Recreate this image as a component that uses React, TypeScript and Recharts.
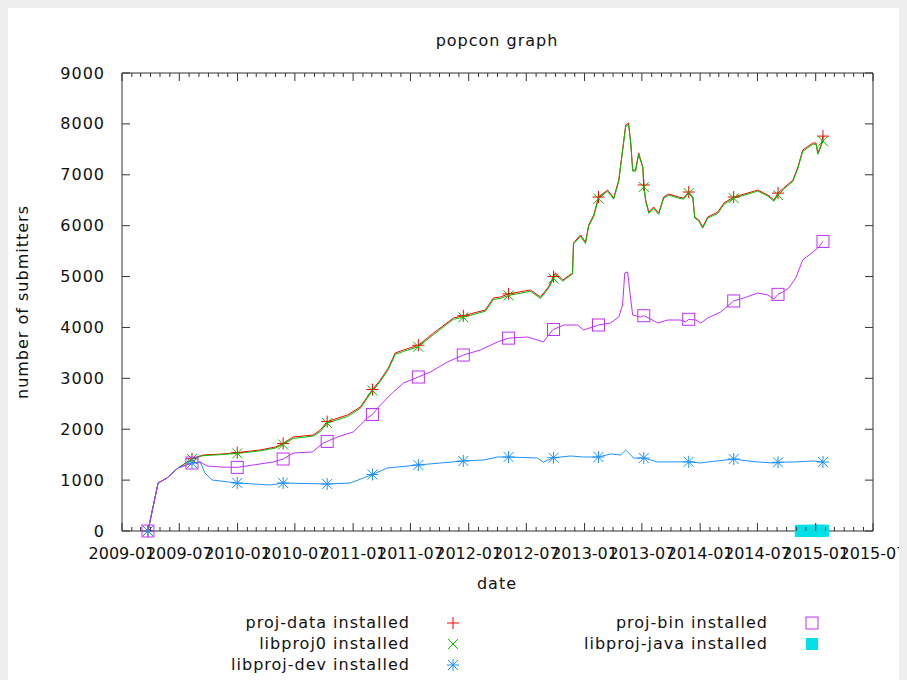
import { LineChart, Line, XAxis, YAxis, ReferenceArea } from 'recharts';

// chart box and plot edges (svg coords)
const W = 899;
const H = 672;
const PL = 114;
const PT = 65;
const PR = 865;
const PB = 523;
const FONT = '"DejaVu Sans", sans-serif';
const AXIS = '#333';

const xTickLabels = [
  '2009-01', '2009-07', '2010-01', '2010-07', '2011-01', '2011-07', '2012-01',
  '2012-07', '2013-01', '2013-07', '2014-01', '2014-07', '2015-01', '2015-07',
];
const yTicks = [0, 1000, 2000, 3000, 4000, 5000, 6000, 7000, 8000, 9000];

// dates where gnuplot put its point symbols
const markerDates = [
  '2009-03-24', '2009-08-10', '2009-12-31', '2010-05-25', '2010-10-11', '2011-03-03',
  '2011-07-26', '2011-12-15', '2012-05-06', '2012-09-25', '2013-02-14', '2013-07-07',
  '2013-11-26', '2014-04-17', '2014-09-04', '2015-01-24',
];

// proj-data and libproj0 share the same sample dates
const projDates = [
  '2009-03-24', '2009-04-25', '2009-05-23', '2009-06-27', '2009-08-10', '2009-09-14',
  '2009-11-07', '2009-12-31', '2010-03-13', '2010-04-30', '2010-05-25', '2010-06-26',
  '2010-08-28', '2010-09-19', '2010-10-11', '2010-12-14', '2011-01-24', '2011-03-03',
  '2011-03-28', '2011-04-22', '2011-05-14', '2011-06-09', '2011-07-26', '2011-09-12',
  '2011-11-14', '2011-12-15', '2012-02-23', '2012-03-19', '2012-04-10', '2012-05-06',
  '2012-07-14', '2012-08-15', '2012-09-09', '2012-09-25', '2012-10-01', '2012-10-24',
  '2012-11-24', '2012-11-27', '2012-12-19', '2013-01-04', '2013-01-14', '2013-01-30',
  '2013-02-14', '2013-03-15', '2013-04-03', '2013-04-19', '2013-05-01', '2013-05-11',
  '2013-05-20', '2013-05-27', '2013-06-02', '2013-06-11', '2013-06-21', '2013-07-04',
  '2013-07-07', '2013-07-13', '2013-07-23', '2013-08-07', '2013-08-23', '2013-09-08',
  '2013-09-24', '2013-10-25', '2013-11-10', '2013-11-26', '2013-12-09', '2013-12-15',
  '2013-12-28', '2014-01-09', '2014-01-25', '2014-02-26', '2014-03-17', '2014-04-17',
  '2014-06-01', '2014-07-02', '2014-08-03', '2014-08-22', '2014-09-04', '2014-09-22',
  '2014-10-21', '2014-11-06', '2014-11-21', '2014-12-23', '2015-01-02', '2015-01-08',
  '2015-01-18', '2015-01-24',
];
const projDataValues = [
  0, 943, 1041, 1238, 1420, 1493, 1510, 1540, 1592, 1650, 1720, 1847,
  1886, 1980, 2150, 2279, 2437, 2780, 2967, 3200, 3498, 3557, 3650, 3890,
  4185, 4230, 4343, 4579, 4598, 4660, 4736, 4598, 4795, 5000, 5070, 4932,
  5070, 5659, 5816, 5678, 6013, 6210, 6563, 6700, 6543, 6897, 7487, 7978,
  8017, 7624, 7094, 7094, 7428, 7153, 6800, 6504, 6268, 6367, 6249, 6563,
  6622, 6563, 6543, 6661, 6563, 6170, 6111, 5974, 6170, 6268, 6445, 6563,
  6642, 6700, 6602, 6504, 6640, 6740, 6897, 7153, 7487, 7624, 7624, 7428,
  7585, 7760,
];
const libproj0Values = [
  0, 943, 1041, 1238, 1415, 1480, 1500, 1525, 1575, 1630, 1700, 1820,
  1865, 1950, 2120, 2250, 2410, 2760, 2940, 3170, 3470, 3530, 3620, 3860,
  4160, 4200, 4320, 4550, 4570, 4630, 4710, 4570, 4770, 4960, 5040, 4910,
  5050, 5640, 5790, 5650, 5990, 6180, 6530, 6680, 6520, 6870, 7460, 7950,
  7990, 7600, 7070, 7070, 7400, 7130, 6760, 6480, 6240, 6340, 6220, 6540,
  6600, 6540, 6520, 6640, 6540, 6150, 6090, 5950, 6150, 6240, 6420, 6540,
  6620, 6680, 6580, 6480, 6600, 6720, 6870, 7130, 7460, 7600, 7600, 7400,
  7560, 7660,
];

const projBinDates = [
  '2009-03-24', '2009-04-25', '2009-05-23', '2009-06-27', '2009-08-10', '2009-09-05',
  '2009-09-27', '2009-11-07', '2009-12-31', '2010-02-19', '2010-04-24', '2010-05-25',
  '2010-06-26', '2010-08-25', '2010-09-29', '2010-10-11', '2010-11-12', '2011-01-01',
  '2011-02-15', '2011-03-03', '2011-03-28', '2011-05-08', '2011-06-09', '2011-07-26',
  '2011-09-02', '2011-10-26', '2011-12-15', '2012-02-07', '2012-04-01', '2012-05-06',
  '2012-07-05', '2012-08-05', '2012-08-24', '2012-09-22', '2012-09-25', '2012-10-27',
  '2012-12-10', '2012-12-29', '2013-02-14', '2013-03-24', '2013-04-19', '2013-05-01',
  '2013-05-08', '2013-05-17', '2013-05-27', '2013-06-02', '2013-06-27', '2013-07-07',
  '2013-07-23', '2013-08-20', '2013-09-21', '2013-10-31', '2013-11-17', '2013-11-26',
  '2013-12-18', '2014-01-03', '2014-01-25', '2014-03-07', '2014-04-17', '2014-05-19',
  '2014-07-02', '2014-08-03', '2014-08-22', '2014-09-04', '2014-09-19', '2014-10-08',
  '2014-10-30', '2014-11-21', '2014-12-23', '2015-01-11', '2015-01-24',
];
const projBinValues = [
  0, 943, 1041, 1238, 1336, 1356, 1277, 1258, 1250, 1297, 1356, 1415,
  1533, 1552, 1729, 1760, 1847, 1945, 2220, 2290, 2476, 2731, 2908, 3026,
  3124, 3321, 3458, 3557, 3714, 3790, 3812, 3753, 3714, 3950, 3960, 4048,
  4048, 3950, 4048, 4087, 4205, 4441, 5070, 5090, 4539, 4244, 4205, 4230,
  4185, 4087, 4146, 4146, 4107, 4160, 4146, 4087, 4185, 4303, 4520, 4578,
  4677, 4637, 4558, 4650, 4696, 4775, 4971, 5325, 5482, 5580, 5690,
];

const libprojDevDates = [
  '2009-03-24', '2009-04-25', '2009-05-23', '2009-06-27', '2009-08-10', '2009-09-05',
  '2009-09-20', '2009-10-13', '2009-12-31', '2010-04-14', '2010-05-25', '2010-10-11',
  '2010-12-23', '2011-02-02', '2011-03-03', '2011-04-19', '2011-07-26', '2011-10-04',
  '2011-12-15', '2012-02-17', '2012-04-01', '2012-05-06', '2012-08-05', '2012-08-24',
  '2012-09-25', '2012-11-18', '2012-12-29', '2013-02-14', '2013-03-24', '2013-04-25',
  '2013-05-11', '2013-06-05', '2013-07-07', '2013-08-20', '2013-11-26', '2014-01-03',
  '2014-01-25', '2014-04-17', '2014-06-20', '2014-08-22', '2014-09-04', '2014-10-24',
  '2014-12-26', '2015-01-24',
];
const libprojDevValues = [
  0, 943, 1041, 1238, 1336, 1356, 1140, 1002, 943, 904, 943, 924,
  943, 1041, 1110, 1238, 1297, 1336, 1376, 1395, 1454, 1454, 1434, 1356,
  1440, 1474, 1454, 1454, 1513, 1493, 1592, 1434, 1434, 1356, 1360, 1336,
  1356, 1415, 1362, 1336, 1350, 1356, 1376, 1356,
];

const libprojJavaDates = [
  '2014-11-15', '2014-11-25', '2014-12-05', '2014-12-15', '2014-12-25',
  '2015-01-04', '2015-01-14', '2015-01-24',
];
const libprojJavaValues = [1, 2, 2, 3, 3, 4, 4, 5];

const DOMAIN: [number, number] = [Date.parse('2009-01-01'), Date.parse('2015-07-01')];

const monthTicks: number[] = [];
for (let y = 2009; y <= 2015; y++) {
  for (let m = 0; m < 12; m++) {
    const t = Date.UTC(y, m, 1);
    if (t <= DOMAIN[1]) monthTicks.push(t);
  }
}

const toRows = (dates: string[], values: number[]) =>
  dates.map((d, i) => ({ date: d, t: Date.parse(d), v: values[i] }));

const markerSet = new Set(markerDates);

type Shape = 'plus' | 'cross' | 'star' | 'box' | 'fbox';

const Marker = ({ shape, cx, cy, color }: { shape: Shape; cx: number; cy: number; color: string }) => {
  const s = 6;
  if (shape === 'box') {
    return <rect x={cx - s} y={cy - s} width={s * 2} height={s * 2} fill="none" stroke={color} />;
  }
  if (shape === 'fbox') {
    return <rect x={cx - s} y={cy - s} width={s * 2} height={s * 2} fill={color} stroke="none" />;
  }
  const plus = `M${cx - s},${cy}H${cx + s}M${cx},${cy - s}V${cy + s}`;
  const c = 5;
  const cross = `M${cx - c},${cy - c}L${cx + c},${cy + c}M${cx - c},${cy + c}L${cx + c},${cy - c}`;
  const d = shape === 'plus' ? plus : shape === 'cross' ? cross : plus + cross;
  return <path d={d} stroke={color} fill="none" strokeWidth={1} />;
};

const makeDot = (shape: Shape, color: string, every = false) => (p: any) => {
  const { cx, cy, payload, index } = p;
  if (!every && !markerSet.has(payload.date)) return <g key={index} />;
  return (
    <g key={index}>
      <Marker shape={shape} cx={cx} cy={cy} color={color} />
    </g>
  );
};

const renderXTick = (props: any) => {
  const { x, payload } = props;
  const d = new Date(payload.value);
  const label = `${d.getUTCFullYear()}-${String(d.getUTCMonth() + 1).padStart(2, '0')}`;
  const major = xTickLabels.includes(label);
  const len = major ? 8 : 4;
  return (
    <g>
      <line x1={x} x2={x} y1={PB} y2={PB - len} stroke={AXIS} />
      <line x1={x} x2={x} y1={PT} y2={PT + len} stroke={AXIS} />
      {major && (
        <text x={x} y={PB + 22} textAnchor="middle" dominantBaseline="central"
          fontFamily={FONT} fontSize={16} fill="#111" style={{ letterSpacing: 0 }}>
          {label}
        </text>
      )}
    </g>
  );
};

const renderYTick = (props: any) => {
  const { y, payload } = props;
  return (
    <g>
      <line x1={PL} x2={PL + 8} y1={y} y2={y} stroke={AXIS} />
      <line x1={PR} x2={PR - 8} y1={y} y2={y} stroke={AXIS} />
      <text x={PL - 17} y={y} textAnchor="end" dominantBaseline="central"
        fontFamily={FONT} fontSize={16} fill="#111" style={{ letterSpacing: 1 }}>
        {payload.value}
      </text>
    </g>
  );
};

const series = [
  { name: 'proj-data installed', rows: toRows(projDates, projDataValues), color: '#ff0000', shape: 'plus' as Shape },
  { name: 'libproj0 installed', rows: toRows(projDates, libproj0Values), color: '#00c000', shape: 'cross' as Shape },
  { name: 'libproj-dev installed', rows: toRows(libprojDevDates, libprojDevValues), color: '#1e90ff', shape: 'star' as Shape },
  { name: 'proj-bin installed', rows: toRows(projBinDates, projBinValues), color: '#c030ff', shape: 'box' as Shape },
  { name: 'libproj-java installed', rows: toRows(libprojJavaDates, libprojJavaValues), color: '#00e0e8', shape: 'fbox' as Shape },
];

const legendPos = [
  { right: 402, mx: 445, y: 615 },
  { right: 402, mx: 445, y: 636 },
  { right: 402, mx: 445, y: 657 },
  { right: 760, mx: 804, y: 615 },
  { right: 760, mx: 804, y: 636 },
];

export default function App() {
  return (
    <div style={{ position: 'relative', width: W, height: H, background: '#fff', fontFamily: FONT, fontSize: 16, color: '#111' }}>
      <style>{'body{background:#eeeeee}'}</style>
      <LineChart width={W} height={H} margin={{ top: PT, right: W - PR, bottom: 0, left: 0 }}>
        <XAxis type="number" dataKey="t" domain={DOMAIN} ticks={monthTicks} interval={0}
          tick={renderXTick} tickLine={false} axisLine={false} height={H - PB} />
        <YAxis type="number" domain={[0, 9000]} ticks={yTicks} interval={0}
          tick={renderYTick} tickLine={false} axisLine={false} width={PL} />
        <ReferenceArea x1={DOMAIN[0]} x2={DOMAIN[1]} y1={0} y2={9000} fill="none" fillOpacity={0}
          stroke={AXIS} strokeWidth={1} ifOverflow="visible" />
        {series.map((s) => (
          <Line key={s.name} data={s.rows} dataKey="v" type="linear" stroke={s.color} strokeWidth={1}
            dot={makeDot(s.shape, s.color, s.shape === 'fbox')} activeDot={false}
            isAnimationActive={false} />
        ))}
      </LineChart>

      <div style={{ position: 'absolute', left: 489, top: 32, transform: 'translate(-50%, -50%)', whiteSpace: 'nowrap', letterSpacing: 1 }}>
        popcon graph
      </div>
      <div style={{ position: 'absolute', left: 489, top: 575, transform: 'translate(-50%, -50%)', whiteSpace: 'nowrap', letterSpacing: 1 }}>
        date
      </div>
      <div style={{ position: 'absolute', left: 14, top: 294, transform: 'translate(-50%, -50%) rotate(-90deg)', whiteSpace: 'nowrap', letterSpacing: 1 }}>
        number of submitters
      </div>

      {series.map((s, i) => {
        const p = legendPos[i];
        return (
          <div key={s.name}>
            <div style={{ position: 'absolute', right: W - p.right, top: p.y - 11, lineHeight: '22px', whiteSpace: 'nowrap', letterSpacing: 1 }}>
              {s.name}
            </div>
            <svg style={{ position: 'absolute', left: p.mx - 8, top: p.y - 8 }} width={16} height={16}>
              <Marker shape={s.shape} cx={8} cy={8} color={s.color} />
            </svg>
          </div>
        );
      })}
    </div>
  );
}
